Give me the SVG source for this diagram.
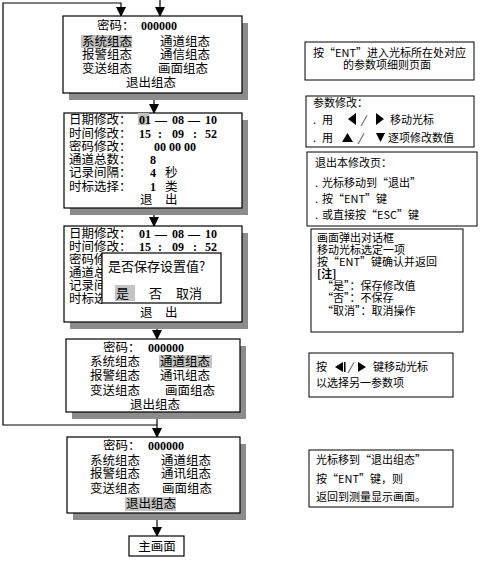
<svg xmlns="http://www.w3.org/2000/svg" width="480" height="561" viewBox="0 0 480 561">
<defs>
<marker id="ah" markerWidth="10" markerHeight="10" refX="9" refY="5" orient="auto" markerUnits="userSpaceOnUse">
<path d="M0,0 L10,5 L0,10 Z" fill="#000"/>
</marker>
<clipPath id="dlgclip"><rect x="64" y="226" width="38" height="96"/></clipPath>
<style>
.box{fill:#fff;stroke:#000;stroke-width:1.2}
.sh{fill:#8c8c8c}
.hl{fill:#c4c4c4}
.t{font-family:"Noto Sans CJK SC","Noto Sans",sans-serif;font-size:12.5px;fill:#000}
.n{font-family:"Liberation Serif","DejaVu Serif",serif;font-size:12px;font-weight:bold;fill:#000}
.s{font-family:"Noto Sans CJK SC","Noto Sans",sans-serif;font-size:11px;fill:#000}
.rb{fill:#fff;stroke:#000;stroke-width:1}
.cn{fill:none;stroke:#000;stroke-width:1.2}
</style>
</defs>
<rect width="480" height="561" fill="#fff"/>

<g id="connectors">
<path class="cn" d="M157,425 H3 V3 H121 V16" marker-end="url(#ah)"/>
<path class="cn" d="M160,0 V16" marker-end="url(#ah)"/>
<path class="cn" d="M154,93 V113" marker-end="url(#ah)"/>
<path class="cn" d="M154,208 V226" marker-end="url(#ah)"/>
<path class="cn" d="M157,322 V339" marker-end="url(#ah)"/>
<path class="cn" d="M157,412 V437" marker-end="url(#ah)"/>
<path class="cn" d="M157,513 V536" marker-end="url(#ah)"/>
</g>

<g id="menu1">
<rect class="sh" x="69" y="23" width="179" height="77"/>
<rect class="box" x="63" y="16" width="179" height="77"/>
<rect class="hl" x="81" y="35" width="51" height="13"/>
<text class="t"><tspan x="97" y="29.5">密码：</tspan><tspan class="n" x="141" y="29.5">000000</tspan><tspan x="82" y="45.5">系统组态</tspan><tspan x="160" y="45.5">通道组态</tspan><tspan x="82" y="58.5">报警组态</tspan><tspan x="160" y="58.5">通信组态</tspan><tspan x="82" y="72.5">变送组态</tspan><tspan x="158" y="72.5">画面组态</tspan><tspan x="126" y="86.5">退出组态</tspan></text>
</g>

<g id="params1">
<rect class="sh" x="70" y="120" width="178" height="95"/>
<rect class="box" x="64" y="113" width="178" height="95"/>
<rect class="hl" x="138" y="113" width="11" height="12"/>
<text class="t"><tspan x="69" y="123.5">日期修改：</tspan><tspan class="n" x="139" y="123.5">01</tspan><tspan class="n" x="155" y="123.5">—</tspan><tspan class="n" x="172" y="123.5">08</tspan><tspan class="n" x="188" y="123.5">—</tspan><tspan class="n" x="205" y="123.5">10</tspan><tspan x="69" y="137.5">时间修改：</tspan><tspan class="n" x="139" y="137.5">15</tspan><tspan class="n" x="158" y="137.5">:</tspan><tspan class="n" x="172" y="137.5">09</tspan><tspan class="n" x="193" y="137.5">:</tspan><tspan class="n" x="205" y="137.5">52</tspan><tspan x="69" y="150.5">密码修改：</tspan><tspan class="n" x="154" y="150.5">00 00 00</tspan><tspan x="69" y="163.5">通道总数：</tspan><tspan class="n" x="150" y="163.5">8</tspan><tspan x="69" y="176.5">记录间隔：</tspan><tspan class="n" x="150" y="176.5">4</tspan><tspan x="165" y="176.5">秒</tspan><tspan x="69" y="190.5">时标选择：</tspan><tspan class="n" x="150" y="190.5">1</tspan><tspan x="165" y="190.5">类</tspan><tspan x="140" y="203.5">退</tspan><tspan x="165" y="203.5">出</tspan></text>
</g>

<g id="params2">
<rect class="sh" x="70" y="233" width="178" height="96"/>
<rect class="box" x="64" y="226" width="178" height="96"/>
<text class="t"><tspan x="69" y="237.5">日期修改：</tspan><tspan class="n" x="139" y="237.5">01</tspan><tspan class="n" x="155" y="237.5">—</tspan><tspan class="n" x="172" y="237.5">08</tspan><tspan class="n" x="188" y="237.5">—</tspan><tspan class="n" x="205" y="237.5">10</tspan><tspan x="69" y="250.5">时间修改：</tspan><tspan class="n" x="139" y="250.5">15</tspan><tspan class="n" x="158" y="250.5">:</tspan><tspan class="n" x="172" y="250.5">09</tspan><tspan class="n" x="193" y="250.5">:</tspan><tspan class="n" x="205" y="250.5">52</tspan><tspan x="140" y="316.5">退</tspan><tspan x="165" y="316.5">出</tspan></text>
<text class="t" clip-path="url(#dlgclip)"><tspan x="69" y="263.5">密码修</tspan><tspan x="69" y="276.5">通道总</tspan><tspan x="69" y="289.5">记录间</tspan><tspan x="69" y="302.5">时标选</tspan></text>
</g>

<g id="dialog">
<rect class="box" x="102" y="253" width="119" height="50"/>
<rect class="hl" x="115" y="285" width="20" height="16"/>
<text class="t" style="font-size:13px"><tspan x="108" y="271">是否保存设置值?</tspan><tspan x="116" y="298">是</tspan><tspan x="149" y="298">否</tspan><tspan x="176" y="298">取消</tspan></text>
</g>

<g id="menu2">
<rect class="sh" x="72" y="346" width="174" height="73"/>
<rect class="box" x="66" y="339" width="174" height="73"/>
<rect class="hl" x="159" y="355" width="53" height="13"/>
<text class="t"><tspan x="103" y="351.5">密码：</tspan><tspan class="n" x="148" y="351.5">000000</tspan><tspan x="90" y="365.5">系统组态</tspan><tspan x="160" y="365.5">通道组态</tspan><tspan x="90" y="379.5">报警组态</tspan><tspan x="160" y="379.5">通讯组态</tspan><tspan x="90" y="394.5">变送组态</tspan><tspan x="165" y="394.5">画面组态</tspan><tspan x="130" y="408.5">退出组态</tspan></text>
</g>

<g id="menu3">
<rect class="sh" x="73" y="444" width="173" height="76"/>
<rect class="box" x="67" y="437" width="173" height="76"/>
<rect class="hl" x="125" y="497" width="51" height="14"/>
<text class="t"><tspan x="103" y="449.5">密码：</tspan><tspan class="n" x="148" y="449.5">000000</tspan><tspan x="90" y="465">系统组态</tspan><tspan x="161" y="465">通道组态</tspan><tspan x="90" y="478">报警组态</tspan><tspan x="161" y="478">通讯组态</tspan><tspan x="90" y="493">变送组态</tspan><tspan x="162" y="493">画面组态</tspan><tspan x="126" y="507.5">退出组态</tspan></text>
</g>

<g id="main">
<rect class="box" x="129" y="536" width="55" height="20"/>
<text class="t" x="157" y="550.5" text-anchor="middle">主画面</text>
</g>

<g id="note1">
<rect class="rb" x="305" y="42" width="169" height="38"/>
<text class="s"><tspan x="313" y="57">按“ENT”进入光标所在处对应</tspan><tspan x="343" y="69">的参数项细则页面</tspan></text>
</g>

<g id="note2">
<rect class="rb" x="306" y="96" width="168" height="51"/>
<polygon points="356,113 348,119 356,125" fill="#000"/>
<polygon points="376,113 384,119 376,125" fill="#000"/>
<polygon points="342,142 347.5,133 353,142" fill="#000"/>
<polygon points="376,133 385,133 380.5,142" fill="#000"/>
<text class="s"><tspan x="313" y="106.5">参数修改：</tspan><tspan x="313" y="124">.</tspan><tspan x="322" y="124">用</tspan><tspan x="361" y="124" font-style="italic">/</tspan><tspan x="390" y="124">移动光标</tspan><tspan x="313" y="142">.</tspan><tspan x="322" y="142">用</tspan><tspan x="358" y="142" font-style="italic">/</tspan><tspan x="388" y="142">逐项修改数值</tspan></text>
</g>

<g id="note3">
<rect class="rb" x="307" y="152" width="170" height="74"/>
<text class="s"><tspan x="315" y="167">退出本修改页：</tspan><tspan x="315" y="187">.</tspan><tspan x="322" y="187">光标移动到“退出”</tspan><tspan x="315" y="203">.</tspan><tspan x="322" y="203">按“ENT”键</tspan><tspan x="315" y="219">.</tspan><tspan x="322" y="219">或直接按“ESC”键</tspan></text>
</g>

<g id="note4">
<rect class="rb" x="311" y="229" width="152" height="103"/>
<text class="s"><tspan x="317" y="242">画面弹出对话框</tspan><tspan x="317" y="254">移动光标选定一项</tspan><tspan x="317" y="266">按“ENT”键确认并返回</tspan><tspan x="317" y="278" font-weight="bold">[注]</tspan><tspan x="322" y="290">“是”：保存修改值</tspan><tspan x="322" y="302">“否”：不保存</tspan><tspan x="322" y="315">“取消”：取消操作</tspan></text>
</g>

<g id="note5">
<rect class="rb" x="309" y="353" width="144" height="44"/>
<polygon points="343,362 335,367 343,372" fill="#000"/>
<rect x="344" y="362" width="1.5" height="10" fill="#000"/>
<polygon points="358,362 366,367 358,372" fill="#000"/>
<text class="s"><tspan x="316" y="371">按</tspan><tspan x="348" y="371" font-style="italic">/</tspan><tspan x="373" y="371">键移动光标</tspan><tspan x="316" y="387">以选择另一参数项</tspan></text>
</g>

<g id="note6">
<rect class="rb" x="309" y="450" width="144" height="57"/>
<text class="s"><tspan x="316" y="464">光标移到“退出组态”</tspan><tspan x="316" y="483">按“ENT”键，则</tspan><tspan x="316" y="501">返回到测量显示画面。</tspan></text>
</g>
</svg>
